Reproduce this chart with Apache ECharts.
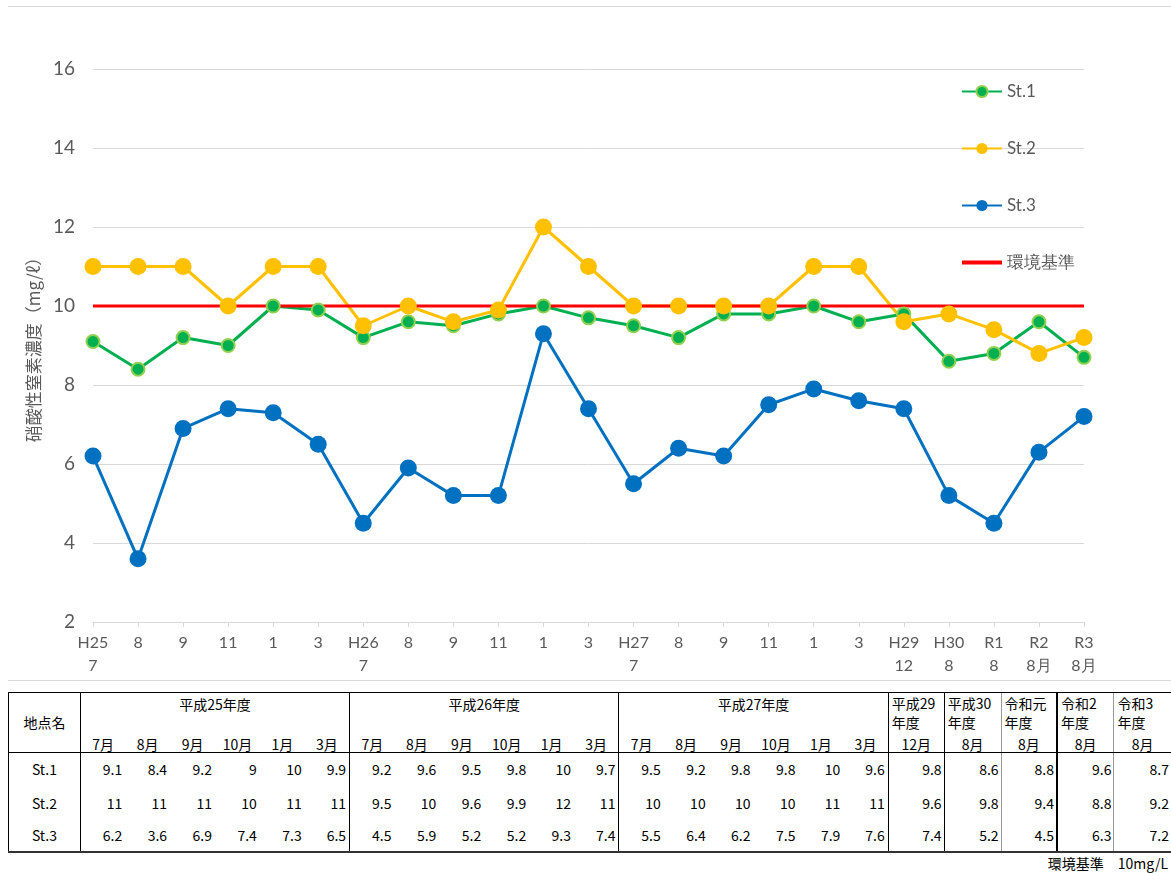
<!DOCTYPE html>
<html><head><meta charset="utf-8">
<script src="https://cdn.jsdelivr.net/npm/echarts@6/dist/echarts.min.js"></script>
<style>
html,body{margin:0;padding:0;width:1171px;height:873px;overflow:hidden;background:#fff;}
#chart{position:absolute;left:0;top:0;width:1171px;height:690px;}
.frame{position:absolute;left:8px;width:1163px;height:0;border-top:1px solid #d9d9d9;}
#tbl{position:absolute;left:8px;top:692px;border-collapse:collapse;table-layout:fixed;font-family:"Noto Sans CJK JP",sans-serif;font-size:14px;color:#000;}
#tbl td{padding:0;white-space:nowrap;overflow:hidden;}
#tbl td.name{text-align:center;border-left:1px solid #000;border-right:1px solid #000;}
#tbl td.yr{text-align:center;vertical-align:top;padding-top:2px;line-height:18px;}
#tbl td.yr2{text-align:left;vertical-align:top;padding-left:3px;padding-top:1px;line-height:19px;}
#tbl td.mo{text-align:center;vertical-align:bottom;line-height:16px;}
#tbl td.v{text-align:right;padding-right:3px;vertical-align:middle;}
#tbl td.v2{text-align:right;padding-right:2px;vertical-align:middle;}
#tbl tr.h1 td{border-top:1px solid #000;}
#tbl tr.h2 td{border-bottom:1px solid #000;}
#tbl tr.last td{border-bottom:2px solid #333;}
#note{position:absolute;top:853px;right:3px;font-family:"Noto Sans CJK JP",sans-serif;font-size:14px;}
</style></head>
<body>
<div id="chart"></div>
<div class="frame" style="top:6px"></div>
<div class="frame" style="top:680px"></div>
<table id="tbl"></table>
<div id="note">環境基準　10mg/L</div>
<script>
// ---- data ----
const categories = ['H25\n7','8','9','11','1','3','H26\n7','8','9','11','1','3','H27\n7','8','9','11','1','3','H29\n12','H30\n8','R1\n8','R2\n8月','R3\n8月'];
const st1 = [9.1,8.4,9.2,9,10,9.9, 9.2,9.6,9.5,9.8,10,9.7, 9.5,9.2,9.8,9.8,10,9.6, 9.8,8.6,8.8,9.6,8.7];
const st2 = [11,11,11,10,11,11, 9.5,10,9.6,9.9,12,11, 10,10,10,10,11,11, 9.6,9.8,9.4,8.8,9.2];
const st3 = [6.2,3.6,6.9,7.4,7.3,6.5, 4.5,5.9,5.2,5.2,9.3,7.4, 5.5,6.4,6.2,7.5,7.9,7.6, 7.4,5.2,4.5,6.3,7.2];
const standardValue = 10;
const seriesNames = ['St.1','St.2','St.3','環境基準'];
const yearGroups = ['平成25年度','平成26年度','平成27年度'];
const groupMonths = ['7月','8月','9月','10月','1月','3月'];
const lateYears = ['平成29<br>年度','平成30<br>年度','令和元<br>年度','令和2<br>年度','令和3<br>年度'];
const lateMonths = ['12月','8月','8月','8月','8月'];

// ---- chart ----
const chart = echarts.init(document.getElementById('chart'));
const lblFont = 'Lato, "Noto Sans", sans-serif';
chart.setOption({
  animation:false,
  grid:{left:93,right:87,top:69,bottom:68},
  legend:{
    orient:'vertical', left:956, top:78, itemWidth:40, itemHeight:14, itemGap:40,
    textStyle:{fontSize:17,color:'#595959',fontFamily:lblFont},
    data:['St.1','St.2','St.3',{name:'環境基準',icon:'path://M0,0H40V4H0Z'}]
  },
  xAxis:{
    type:'category', data:categories, boundaryGap:false,
    axisLine:{lineStyle:{color:'#d9d9d9',width:1}},
    axisTick:{show:true,alignWithLabel:true,length:5,lineStyle:{color:'#d9d9d9'}},
    axisLabel:{interval:0,color:'#595959',fontSize:16,fontFamily:lblFont,lineHeight:23,margin:9}
  },
  yAxis:{
    type:'value', min:2, max:16, interval:2,
    name:'硝酸性窒素濃度（mg/ℓ）', nameLocation:'middle', nameGap:41,
    nameTextStyle:{color:'#595959',fontSize:17,fontFamily:'"Noto Sans CJK JP", sans-serif'},
    axisLine:{show:false}, axisTick:{show:false},
    axisLabel:{color:'#595959',fontSize:19,fontFamily:lblFont,margin:18},
    splitLine:{lineStyle:{color:'#d9d9d9',width:1}}
  },
  series:[
    {name:'St.1',type:'line',data:st1,symbol:'circle',symbolSize:13,
     lineStyle:{color:'#00B050',width:3},
     itemStyle:{color:'#00B050',borderColor:'#92D050',borderWidth:2}},
    {name:'St.2',type:'line',data:st2,symbol:'circle',symbolSize:17,
     lineStyle:{color:'#FFC000',width:3},
     itemStyle:{color:'#FFC000'}},
    {name:'St.3',type:'line',data:st3,symbol:'circle',symbolSize:17,
     lineStyle:{color:'#0070C0',width:3},
     itemStyle:{color:'#0070C0'}},
    {name:'環境基準',type:'line',data:categories.map(()=>standardValue),symbol:'none',
     lineStyle:{color:'#FF0000',width:3},itemStyle:{color:'#FF0000'}}
  ]
});

// ---- table ----
const tbl = document.getElementById('tbl');
let html = '<colgroup><col style="width:72px">';
for (let i=0;i<18;i++) html += '<col style="width:45px">';
[56,57,56,57,57].forEach(w=>{ html += '<col style="width:'+w+'px">'; });
html += '</colgroup>';
const lateBorder = ['1px solid #000','1px solid #000','1px solid #999','2px solid #000','1px solid #999'];
function gb(){ return 'border-left:1px solid #000;'; }
html += '<tr class="h1" style="height:43px"><td class="name" rowspan="2" style="border-bottom:1px solid #000;border-top:1px solid #000">地点名</td>';
yearGroups.forEach(y=>{ html += '<td class="yr" colspan="6" style="'+gb()+'">'+y+'</td>'; });
lateYears.forEach((y,i)=>{ html += '<td class="yr2" style="border-left:'+lateBorder[i]+'">'+y+'</td>'; });
html += '</tr>';
html += '<tr class="h2" style="height:16px">';
yearGroups.forEach(()=>{ groupMonths.forEach((m,j)=>{ html += '<td class="mo" style="'+(j===0?gb():'')+'">'+m+'</td>'; }); });
lateMonths.forEach((m,i)=>{ html += '<td class="mo" style="border-left:'+lateBorder[i]+'">'+m+'</td>'; });
html += '</tr>';
[st1,st2,st3].forEach((arr,r)=>{
  html += '<tr class="'+(r===2?'last':'')+'" style="height:'+(r===0?34:33)+'px"><td class="name">'+seriesNames[r]+'</td>';
  arr.forEach((v,k)=>{
    if (k<18) html += '<td class="v" style="'+(k%6===0?gb():'')+'">'+v+'</td>';
    else html += '<td class="v2" style="border-left:'+lateBorder[k-18]+'">'+v+'</td>';
  });
  html += '</tr>';
});
tbl.innerHTML = html;
</script>
</body></html>
